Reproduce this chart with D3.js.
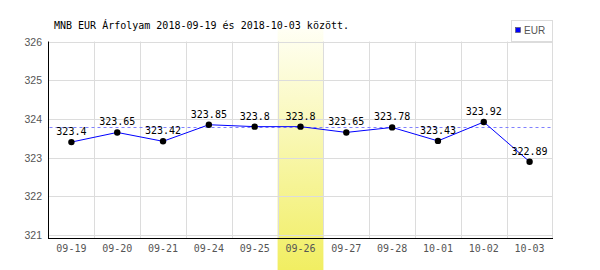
<!DOCTYPE html>
<html><head><meta charset="utf-8">
<script src="https://cdn.jsdelivr.net/npm/d3@7"></script>
<style>body{margin:0;background:#fff}svg{display:block}</style>
</head><body>
<script>
const title = "MNB EUR Árfolyam 2018-09-19 és 2018-10-03 között.";
const categories = ["09-19","09-20","09-21","09-24","09-25","09-26","09-27","09-28","10-01","10-02","10-03"];
const values = [323.4,323.65,323.42,323.85,323.8,323.8,323.65,323.78,323.43,323.92,322.89];
const valueLabels = ["323.4","323.65","323.42","323.85","323.8","323.8","323.65","323.78","323.43","323.92","322.89"];
const yTicks = [321,322,323,324,325,326];
const highlighted = "09-26";
const referenceValue = 323.8;
const seriesName = "EUR";

(function(){
const W = 600, H = 270;
const pLeft = 48.5, pRight = 552.5, pTop = 41.5, pBottom = 238.5;
const svg = d3.select("body").append("svg").attr("width", W).attr("height", H);
const defs = svg.append("defs");
const grad = defs.append("linearGradient").attr("id","hl").attr("x1",0).attr("y1",0).attr("x2",0).attr("y2",1);
grad.append("stop").attr("offset","0%").attr("stop-color","#fffff4");
grad.append("stop").attr("offset","100%").attr("stop-color","#f1ee62");

const x = d3.scaleBand().domain(categories).range([pLeft, pRight]);
const y = d3.scaleLinear().domain([320.9, 326]).range([pBottom, pTop + 0.3]);

// highlight band
svg.append("rect").attr("x", x(highlighted)).attr("y", 29).attr("width", x.bandwidth()).attr("height", H - 29).attr("fill", "url(#hl)");

// grid
const g = svg.append("g");
g.selectAll(".hg").data(yTicks).join("line")
  .attr("x1", pLeft).attr("x2", pRight).attr("y1", d => Math.round(y(d)) + 0.5).attr("y2", d => Math.round(y(d)) + 0.5)
  .attr("stroke", "#dcdcdc");
const vx = categories.slice(1).map(c => x(c)).concat([pRight - 0.5]);
g.selectAll(".vg").data(vx).join("line")
  .attr("x1", d => Math.round(d) + 0.5).attr("x2", d => Math.round(d) + 0.5)
  .attr("y1", pTop).attr("y2", pBottom).attr("stroke", "#dcdcdc");

// axes
svg.append("line").attr("x1", pLeft).attr("x2", pLeft).attr("y1", pTop).attr("y2", pBottom + 0.5).attr("stroke", "#000");
svg.append("line").attr("x1", pLeft).attr("x2", pRight + 0.5).attr("y1", pBottom).attr("y2", pBottom).attr("stroke", "#000");

// y tick labels
svg.selectAll(".yt").data(yTicks).join("text")
  .attr("x", 42).attr("y", d => y(d) + 4).attr("text-anchor", "end")
  .attr("font-family", "Liberation Sans, Arial, sans-serif").attr("font-size", 10.5).attr("fill", "#555")
  .text(d => d);

// x tick labels
svg.selectAll(".xt").data(categories).join("text")
  .attr("x", d => x(d) + x.bandwidth()/2).attr("y", 251.5).attr("text-anchor", "middle")
  .attr("font-family", "DejaVu Sans Mono, monospace").attr("font-size", 10).attr("fill", "#555")
  .text(d => d);

// reference dashed line
svg.append("line").attr("x1", pLeft + 1).attr("x2", pRight).attr("y1", Math.round(y(referenceValue)) + 0.5).attr("y2", Math.round(y(referenceValue)) + 0.5)
  .attr("stroke", "#8080ff").attr("stroke-dasharray", "3,3");

// series line
const data = categories.map((c,i) => ({c, v: values[i], l: valueLabels[i]}));
svg.append("path").datum(data)
  .attr("d", d3.line().x(d => x(d.c) + x.bandwidth()/2).y(d => y(d.v)))
  .attr("fill", "none").attr("stroke", "#0000ff").attr("stroke-width", 1);

svg.selectAll(".pt").data(data).join("circle")
  .attr("cx", d => x(d.c) + x.bandwidth()/2).attr("cy", d => y(d.v)).attr("r", 3.2).attr("fill", "#000");

svg.selectAll(".vl").data(data).join("text")
  .attr("x", d => x(d.c) + x.bandwidth()/2).attr("y", d => y(d.v) - 7).attr("text-anchor", "middle")
  .attr("font-family", "DejaVu Sans Mono, monospace").attr("font-size", 10).attr("fill", "#000")
  .text(d => d.l);

// title
svg.append("text").attr("x", 54).attr("y", 29).attr("font-family", "DejaVu Sans Mono, monospace")
  .attr("font-size", 10).attr("fill", "#000").text(title);

// legend
svg.append("rect").attr("x", 511.5).attr("y", 20.5).attr("width", 41).attr("height", 21).attr("fill", "#fff").attr("stroke", "#dcdcdc");
svg.append("rect").attr("x", 515.5).attr("y", 27.5).attr("width", 5).attr("height", 5).attr("fill", "#0000ff").attr("stroke", "#555").attr("stroke-width", 0.6);
svg.append("text").attr("x", 524).attr("y", 34).attr("font-family", "Liberation Sans, Arial, sans-serif").attr("font-size", 10).attr("fill", "#555").text(seriesName);
})();
</script>
</body></html>
